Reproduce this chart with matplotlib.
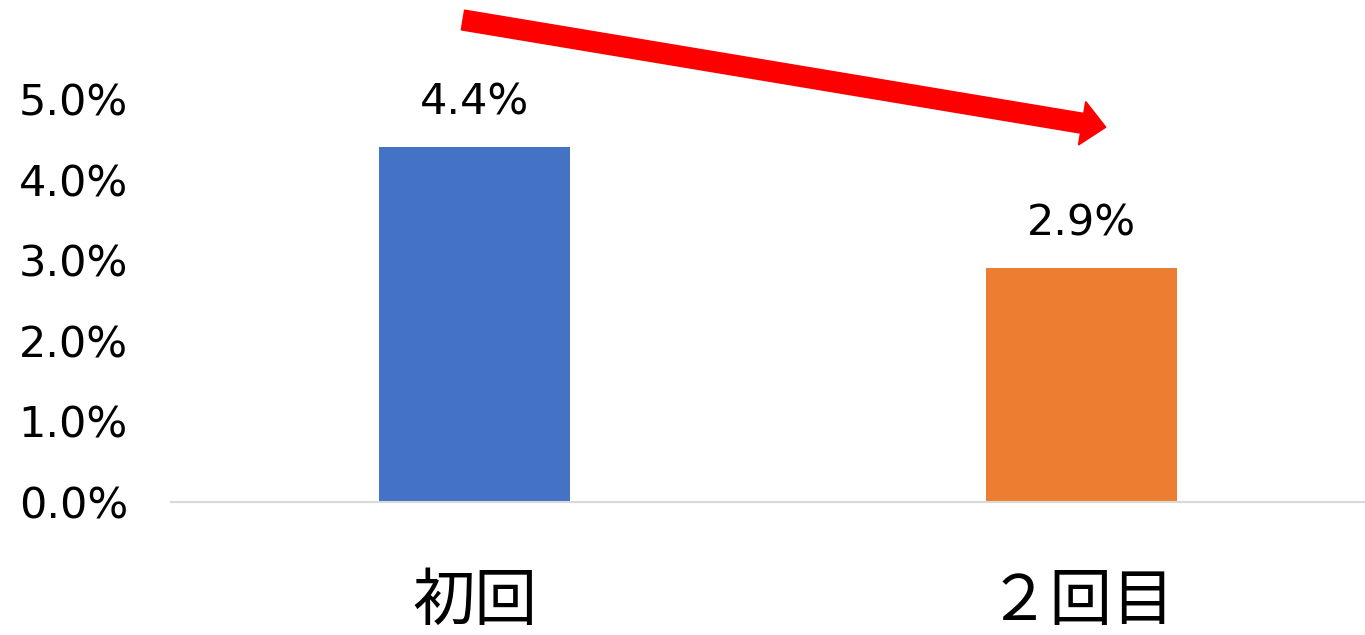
import matplotlib
matplotlib.use('Agg')
import matplotlib.pyplot as plt
from matplotlib.patches import FancyArrow

# データ
categories = ['初回', '２回目']
rates = [4.4, 2.9]           # %
bar_colors = ['#4472C4', '#ED7D31']
y_ticks = [0, 1, 2, 3, 4, 5]

plt.rcParams['font.family'] = ['DejaVu Sans', 'Noto Sans CJK JP']

W, H = 1365, 635
fig = plt.figure(figsize=(W / 100, H / 100), dpi=100)
# プロット領域（右端は画像の外まで伸ばす）
ax = fig.add_axes([171 / W, 133 / H, 1214 / W, 403 / H])

x = list(range(len(categories)))
ax.bar(x, rates, width=0.315, color=bar_colors, zorder=2)

# 値ラベル
for xi, v in zip(x, rates):
    ax.annotate(f'{v:.1f}%', (xi, v), xytext=(0, 17), textcoords='offset points',
                ha='center', va='bottom', fontsize=31, color='#000000')

ax.set_xlim(-0.5, 1.5)
ax.set_ylim(0, 5)
ax.set_yticks(y_ticks)
ax.set_yticklabels([f'{t:.1f}%' for t in y_ticks], fontsize=31)
ax.set_xticks(x)
ax.set_xticklabels(categories, fontsize=45, family=['Noto Sans CJK JP'])
ax.tick_params(axis='both', length=0)
ax.tick_params(axis='y', pad=31)
ax.tick_params(axis='x', pad=49)

for s in ['top', 'right', 'left']:
    ax.spines[s].set_visible(False)
ax.spines['bottom'].set_color('#D9D9D9')
ax.spines['bottom'].set_linewidth(1.5)

# 減少を示す赤い矢印
x0, y0 = -0.019, 5.98
x1, y1 = 1.04, 4.65
p0 = ax.transData.transform((x0, y0))
p1 = ax.transData.transform((x1, y1))
arrow = FancyArrow(p0[0], p0[1], p1[0] - p0[0], p1[1] - p0[1],
                   width=20, head_width=44, head_length=24,
                   length_includes_head=True, color='#FF0000',
                   transform=None, clip_on=False, zorder=5)
fig.patches.append(arrow)

fig.savefig('out.png', dpi=100)
